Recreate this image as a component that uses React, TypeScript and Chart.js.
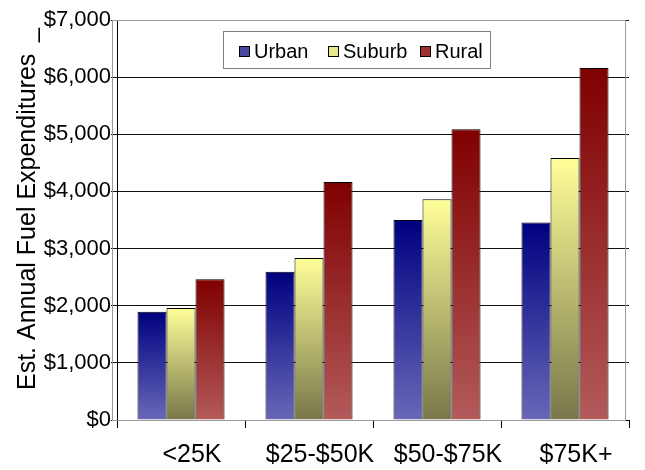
import React, { useEffect, useRef } from "react";
import { Chart, registerables } from "chart.js";

Chart.register(...registerables);

const categories = ["<25K", "$25-$50K", "$50-$75K", "$75K+"];
const seriesNames = ["Urban", "Suburb", "Rural"];
const urban = [1895, 2595, 3500, 3455];
const suburb = [1960, 2835, 3865, 4585];
const rural = [2465, 4165, 5090, 6160];
const yTickValues = [0, 1000, 2000, 3000, 4000, 5000, 6000, 7000];
const yTitle = "Est. Annual Fuel Expenditures";

const gradTop = ["#000080", "#ffff99", "#800000"];
const gradBottom = ["#6868b8", "#77774a", "#b35a5a"];
const swatch = ["#4a4aa0", "#e8e88a", "#a03030"];

const FONT = "Arial, 'Liberation Sans', sans-serif";

function makeGradient(idx: number) {
  return (ctx: any) => {
    const chart = ctx.chart;
    const { chartArea, scales } = chart;
    if (!chartArea || ctx.raw == null) return gradTop[idx];
    const yTop = scales.y.getPixelForValue(ctx.raw);
    const yBot = scales.y.getPixelForValue(0);
    if (!isFinite(yTop) || !isFinite(yBot) || yTop === yBot) return gradTop[idx];
    const g = chart.ctx.createLinearGradient(0, yTop, 0, yBot);
    g.addColorStop(0, gradTop[idx]);
    g.addColorStop(1, gradBottom[idx]);
    return g;
  };
}

const plotBoxPlugin = {
  id: "plotBox",
  beforeDatasetsDraw(chart: any) {
    const { ctx, chartArea } = chart;
    ctx.save();
    ctx.strokeStyle = "#9a9a9a";
    ctx.lineWidth = 1;
    ctx.strokeRect(chartArea.left - 4.5, chartArea.top + 0.5, chartArea.right - chartArea.left + 1, chartArea.bottom - chartArea.top);
    ctx.restore();
  },
};

const titlePlugin = {
  id: "yTitle",
  afterDraw(chart: any) {
    const { ctx } = chart;
    ctx.save();
    ctx.translate(35, 390);
    ctx.rotate(-Math.PI / 2);
    ctx.font = `25px ${FONT}`;
    ctx.fillStyle = "#000";
    ctx.textAlign = "left";
    ctx.textBaseline = "alphabetic";
    ctx.fillText(yTitle, 0, 0);
    ctx.fillText("_", 348, 0);
    ctx.restore();
  },
};

const legendPlugin = {
  id: "customLegend",
  afterDraw(chart: any) {
    const { ctx } = chart;
    ctx.save();
    const bx = 223.5, by = 31.5, bw = 267, bh = 37;
    ctx.fillStyle = "#ffffff";
    ctx.fillRect(bx, by, bw, bh);
    ctx.strokeStyle = "#808080";
    ctx.lineWidth = 1;
    ctx.strokeRect(bx, by, bw, bh);
    const xs = [239, 328, 420];
    ctx.font = `20px ${FONT}`;
    ctx.textBaseline = "middle";
    ctx.textAlign = "left";
    seriesNames.forEach((name, i) => {
      const sx = xs[i];
      ctx.fillStyle = swatch[i];
      ctx.fillRect(sx, 46, 11, 11);
      ctx.strokeStyle = "#000";
      ctx.strokeRect(sx + 0.5, 46.5, 10, 10);
      ctx.fillStyle = "#000";
      ctx.fillText(name, sx + 15, 52);
    });
    ctx.restore();
  },
};

export default function App() {
  const ref = useRef<HTMLCanvasElement>(null);
  useEffect(() => {
    document.body.style.margin = "0";
    const canvas = ref.current;
    if (!canvas) return;
    const chart = new Chart(canvas, {
      type: "bar",
      data: {
        labels: categories,
        datasets: [
          { label: seriesNames[0], data: urban, backgroundColor: makeGradient(0), borderColor: "#000", borderWidth: 1 },
          { label: seriesNames[1], data: suburb, backgroundColor: makeGradient(1), borderColor: "#000", borderWidth: 1 },
          { label: seriesNames[2], data: rural, backgroundColor: makeGradient(2), borderColor: "#000", borderWidth: 1 },
        ],
      },
      options: {
        animation: false,
        responsive: true,
        maintainAspectRatio: false,
        layout: { padding: { top: 20, right: 16, left: 0, bottom: 0 } },
        datasets: { bar: { categoryPercentage: 0.68, barPercentage: 1 } },
        plugins: {
          legend: { display: false },
          tooltip: { enabled: false },
        },
        scales: {
          x: {
            type: "category",
            grid: { offset: true, drawOnChartArea: false, drawTicks: true, tickLength: 8, color: "#000" },
            border: { color: "#000", width: 1 },
            ticks: { font: { family: FONT, size: 25 }, color: "#000", padding: 12, labelOffset: 11, maxRotation: 0, autoSkip: false },
            afterFit: (s: any) => { s.height = 50; },
          },
          y: {
            min: 0,
            max: 7000,
            afterBuildTicks: (s: any) => { s.ticks = yTickValues.map((v) => ({ value: v })); },
            ticks: {
              font: { family: FONT, size: 22 },
              color: "#000",
              padding: 0,
              callback: (v: any) => "$" + Number(v).toLocaleString("en-US"),
            },
            grid: { color: "#111", lineWidth: 1, tickLength: 6, drawTicks: true },
            border: { color: "#000", width: 1 },
            title: { display: false },
            afterFit: (s: any) => { s.width = 117; },
          },
        },
      },
      plugins: [plotBoxPlugin, titlePlugin, legendPlugin],
    } as any);
    return () => chart.destroy();
  }, []);
  return (
    <div style={{ position: "relative", width: 645, height: 470 }}>
      <canvas ref={ref} />
    </div>
  );
}
